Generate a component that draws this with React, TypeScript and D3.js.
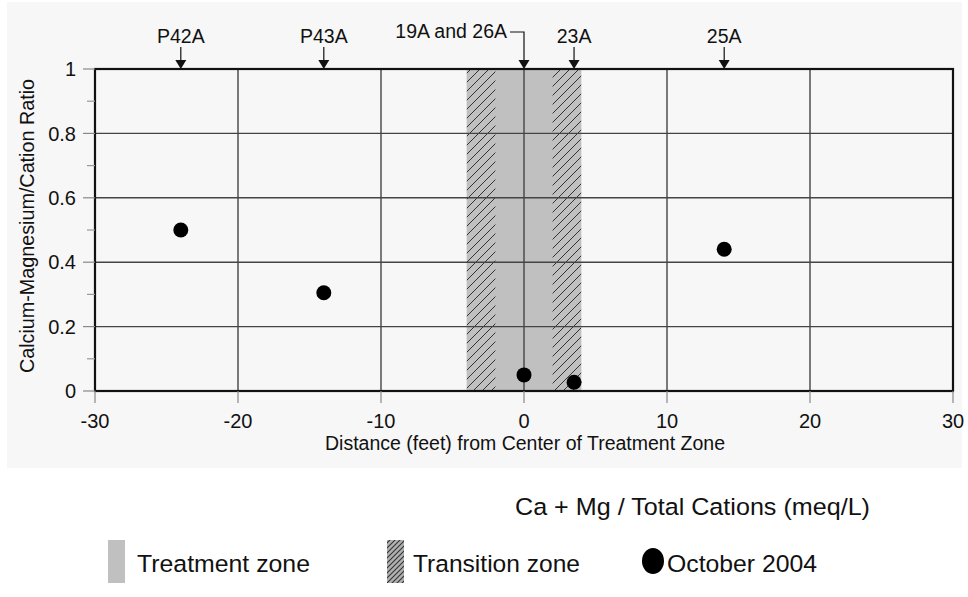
import React from "react";
import * as d3 from "d3";

const W = 968;
const H = 597;

const xTicks = [-30, -20, -10, 0, 10, 20, 30];
const yTicks = [0, 0.2, 0.4, 0.6, 0.8, 1];
const yMinorTicks = [0.1, 0.3, 0.5, 0.7, 0.9];
const treatmentZone = [-4, 4];
const transitionZones = [[-4, -2], [2, 4]];
const wellNames = ["P42A", "P43A", "19A and 26A", "23A", "25A"];
const wellDistances = [-24, -14, 0, 3.5, 14];
const ratioOct2004 = [0.5, 0.305, 0.05, 0.027, 0.44];

const FONT = "'Liberation Sans', Arial, Helvetica, sans-serif";

export default function App() {
  const plot = { left: 95, right: 953, top: 69, bottom: 391 };
  const x = d3.scaleLinear().domain([-30, 30]).range([plot.left, plot.right]);
  const y = d3.scaleLinear().domain([0, 1]).range([plot.bottom, plot.top]);

  return (
    <svg
      width={W}
      height={H}
      style={{ position: "absolute", left: 0, top: 0, background: "#fff" }}
      fontFamily={FONT}
    >
      <defs>
        <pattern id="hatch" patternUnits="userSpaceOnUse" width="9" height="9">
          <rect width="9" height="9" fill="#c0c0c0" />
          <path d="M-2,11 L11,-2 M-2,2 L2,-2 M7,11 L11,7" stroke="#333" strokeWidth="1" />
        </pattern>
        <pattern id="hatchLegend" patternUnits="userSpaceOnUse" width="5" height="5">
          <rect width="5" height="5" fill="#b0b0b0" />
          <path d="M-1,6 L6,-1 M-1,1 L1,-1 M4,6 L6,4" stroke="#333" strokeWidth="1.1" />
        </pattern>
      </defs>

      {/* panel background */}
      <rect x={7} y={2} width={955} height={466} fill="#f7f7f7" />

      {/* treatment zone */}
      <rect
        x={x(treatmentZone[0])}
        y={y(1)}
        width={x(treatmentZone[1]) - x(treatmentZone[0])}
        height={y(0) - y(1)}
        fill="#c0c0c0"
      />
      {transitionZones.map((z, i) => (
        <rect
          key={i}
          x={x(z[0])}
          y={y(1)}
          width={x(z[1]) - x(z[0])}
          height={y(0) - y(1)}
          fill="url(#hatch)"
        />
      ))}

      {/* gridlines */}
      {xTicks.map((t) => (
        <line key={"gx" + t} x1={x(t)} x2={x(t)} y1={y(0)} y2={y(1)} stroke="#444" strokeWidth={1.4} />
      ))}
      {yTicks.map((t) => (
        <line key={"gy" + t} x1={x(-30)} x2={x(30)} y1={y(t)} y2={y(t)} stroke="#444" strokeWidth={1.4} />
      ))}

      {/* frame */}
      <rect
        x={x(-30)}
        y={y(1)}
        width={x(30) - x(-30)}
        height={y(0) - y(1)}
        fill="none"
        stroke="#111"
        strokeWidth={2.2}
      />

      {/* y ticks */}
      {yTicks.map((t) => (
        <g key={"yt" + t}>
          <line x1={x(-30) - 12} x2={x(-30)} y1={y(t)} y2={y(t)} stroke="#888" strokeWidth={1.2} />
          <text x={76} y={y(t)} dy="0.36em" textAnchor="end" fontSize={20} fill="#111">
            {d3.format("~g")(t)}
          </text>
        </g>
      ))}
      {yMinorTicks.map((t) => (
        <line key={"ym" + t} x1={x(-30) - 8} x2={x(-30)} y1={y(t)} y2={y(t)} stroke="#999" strokeWidth={1.2} />
      ))}

      {/* x ticks */}
      {xTicks.map((t) => (
        <g key={"xt" + t}>
          <line x1={x(t)} x2={x(t)} y1={y(0)} y2={y(0) + 12} stroke="#888" strokeWidth={1.2} />
          <text x={x(t)} y={428} textAnchor="middle" fontSize={20} fill="#111">
            {t}
          </text>
        </g>
      ))}

      {/* axis titles */}
      <text x={325} y={450} fontSize={19.5} fill="#111" textLength={400} lengthAdjust="spacingAndGlyphs">
        Distance (feet) from Center of Treatment Zone
      </text>
      <text
        transform={`translate(34,${226}) rotate(-90)`}
        textAnchor="middle"
        fontSize={19.5}
        fill="#111"
        textLength={294}
        lengthAdjust="spacingAndGlyphs"
      >
        Calcium-Magnesium/Cation Ratio
      </text>

      {/* well labels and arrows */}
      {wellNames.map((name, i) => {
        const px = x(wellDistances[i]);
        const bent = name === "19A and 26A";
        return (
          <g key={name}>
            {bent ? (
              <>
                <text x={px - 17} y={38} textAnchor="end" fontSize={19.5} fill="#111">
                  {name}
                </text>
                <path d={`M${px - 14},${32} H${px} V${y(1) - 8}`} fill="none" stroke="#111" strokeWidth={1.2} />
              </>
            ) : (
              <>
                <text x={px} y={43} textAnchor="middle" fontSize={19.5} fill="#111">
                  {name}
                </text>
                <line x1={px} x2={px} y1={47} y2={y(1) - 8} stroke="#111" strokeWidth={1.2} />
              </>
            )}
            <path d={`M${px - 5.5},${y(1) - 9} L${px + 5.5},${y(1) - 9} L${px},${y(1)} Z`} fill="#111" />
          </g>
        );
      })}

      {/* data points */}
      {wellDistances.map((d, i) => (
        <circle key={"pt" + i} cx={x(d)} cy={y(ratioOct2004[i])} r={7.5} fill="#000" />
      ))}

      {/* subtitle */}
      <text x={515} y={515} fontSize={24.5} fill="#111" textLength={355} lengthAdjust="spacingAndGlyphs">
        Ca + Mg / Total Cations (meq/L)
      </text>

      {/* legend */}
      <rect x={108} y={540} width={17} height={43} fill="#c0c0c0" />
      <text x={137} y={572} fontSize={24.5} fill="#111" textLength={173} lengthAdjust="spacingAndGlyphs">
        Treatment zone
      </text>
      <rect x={387} y={540} width={17} height={43} fill="url(#hatchLegend)" />
      <text x={413} y={572} fontSize={24.5} fill="#111" textLength={167} lengthAdjust="spacingAndGlyphs">
        Transition zone
      </text>
      <ellipse cx={653} cy={561} rx={11} ry={13} fill="#000" />
      <text x={667} y={572} fontSize={24.5} fill="#111" textLength={150} lengthAdjust="spacingAndGlyphs">
        October 2004
      </text>
    </svg>
  );
}
